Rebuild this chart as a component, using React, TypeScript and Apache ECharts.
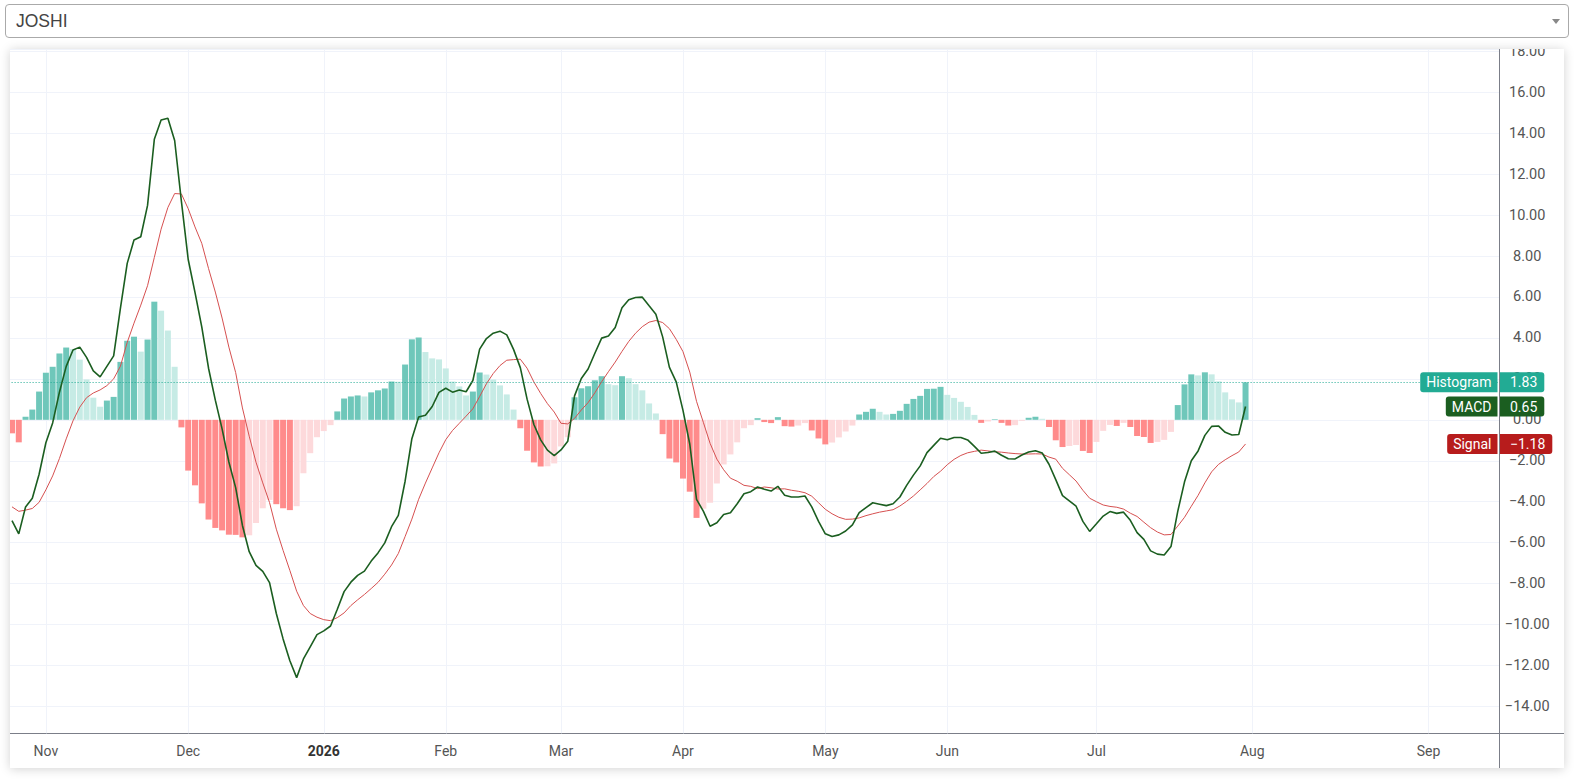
import React, { useEffect, useRef } from "react";
import * as echarts from "echarts";

// ---- time axis (bar slots) ----
const monthLabels = ["Nov", "Dec", "2026", "Feb", "Mar", "Apr", "May", "Jun", "Jul", "Aug", "Sep"];
const monthBarIndex = [5, 26, 46, 64, 81, 99, 120, 138, 160, 183, 209];
const slotCount = 220;

// ---- y axis ----
const yMin = -15.31;
const yMax = 18.11;
const yStep = 2;

// ---- series values (one per bar) ----
const histogram = [
  -0.66, -1.1, 0.15, 0.5, 1.38, 2.3, 2.59, 3.24, 3.53, 3.46, 2.94, 1.97, 1.08, 0.64, 0.94, 1.12, 2.83, 3.86, 4.06, 3.33,
  3.92, 5.77, 5.33, 4.36, 2.59, -0.37, -2.48, -3.2, -4.08, -4.87, -5.28, -5.4, -5.61, -5.62, -5.74, -5.64, -5.04,
  -4.32, -3.91, -4.12, -4.32, -4.41, -4.22, -2.61, -1.63, -0.85, -0.55, -0.26, 0.41, 1.04, 1.14, 1.19, 1.14, 1.34, 1.44,
  1.53, 1.87, 1.86, 2.7, 3.93, 4.02, 3.31, 3.0, 2.95, 2.51, 1.87, 1.63, 1.19, 1.38, 2.31, 2.21, 1.97, 1.68, 1.24, 0.5, -0.41,
  -1.51, -2.08, -2.28, -2.27, -2.13, -1.3, -0.85, 1.1, 1.54, 1.64, 1.93, 2.13, 1.74, 1.69, 2.13, 2.03, 1.74, 1.44, 0.8,
  0.31, -0.7, -1.89, -2.08, -2.87, -3.51, -4.79, -4.34, -4.05, -3.11, -2.18, -1.69, -1.1, -0.41, -0.26, 0.08, -0.11, -0.16,
  0.13, -0.31,
  -0.33, -0.28, -0.16, -0.52, -0.91, -1.2, -1.11, -0.86, -0.57, -0.28, 0.26, 0.39, 0.54, 0.39, 0.26, 0.29, 0.44, 0.78,
  1.02, 1.17, 1.51, 1.52, 1.61, 1.22, 1.07, 0.88, 0.63, 0.24, -0.15, -0.08, 0.03, -0.15, -0.28, -0.26, -0.05, 0.1, 0.15, 0.05,
  -0.35, -1.0, -1.33, -1.28, -1.23, -1.52, -1.62, -1.08, -0.54, -0.25, -0.3, -0.15, -0.35, -0.79, -0.84, -1.13, -1.08,
  -0.98, -0.59, 0.72, 1.73, 2.22, 2.17, 2.32, 2.22, 1.88, 1.34, 1.0, 0.85, 1.83,
];

const macd = [
  -4.92, -5.57, -4.26, -3.83, -2.66, -1.12, -0.15, 1.35, 2.61, 3.41, 3.55, 3.05, 2.39, 2.1, 2.61, 3.12, 5.45, 7.64, 8.78,
  8.94, 10.47, 13.7, 14.64, 14.73, 13.64, 10.66, 7.83, 6.22, 4.54, 2.52, 0.96, -0.44, -2.06, -3.31, -5.16, -6.44, -7.11,
  -7.4, -7.95, -9.46, -10.7, -11.77, -12.59, -11.68, -11.09, -10.49, -10.31, -10.07, -9.25, -8.39, -7.93, -7.6, -7.39,
  -6.9, -6.5, -6.01, -5.22, -4.67, -3.0, -0.92, 0.14, 0.22, 0.65, 1.34, 1.54, 1.35, 1.46, 1.37, 1.92, 3.45, 3.97, 4.23,
  4.33, 4.15, 3.44, 2.55,
  1.01, -0.23, -0.98, -1.48, -1.75, -1.47, -1.05, 1.17, 2.02, 2.48, 3.25, 3.99, 4.09, 4.51, 5.47, 5.86, 5.97, 5.99, 5.57,
  5.16, 4.05, 2.56, 1.85, 0.46, -1.18, -3.89, -4.46, -5.2, -5.03, -4.62, -4.54, -4.1, -3.61, -3.51, -3.28, -3.39, -3.48,
  -3.25, -3.68,
  -3.77, -3.77, -3.72, -4.25, -4.96, -5.57, -5.7, -5.62, -5.43, -5.13, -4.53, -4.29, -4.05, -4.12, -4.19, -4.1, -3.77,
  -3.2, -2.7, -2.25, -1.6, -1.25, -0.9, -0.97, -0.86, -0.86, -0.98, -1.3, -1.63, -1.6, -1.53, -1.73, -1.9, -1.91, -1.72,
  -1.57, -1.51, -1.62,
  -2.17, -2.92, -3.7, -3.96, -4.22, -4.96, -5.45, -5.08, -4.7, -4.48, -4.57, -4.51, -4.91, -5.51, -5.84, -6.4, -6.56,
  -6.6, -6.19, -4.47, -3.03, -2.0, -1.52, -0.76, -0.32, -0.3, -0.61, -0.74, -0.72, 0.65,
];

const signal = [
  -4.25, -4.47, -4.41, -4.33, -4.03, -3.42, -2.74, -1.89, -0.93, -0.05, 0.62, 1.08, 1.31, 1.46, 1.67, 2.0, 2.62, 3.78,
  4.72, 5.6, 6.55, 7.93, 9.31, 10.37, 11.05, 11.03, 10.31, 9.42, 8.62, 7.39, 6.24, 4.97, 3.55, 2.31, 0.58, -0.8, -2.07,
  -3.08, -4.04, -5.34, -6.38, -7.36, -8.37, -9.07, -9.46, -9.64, -9.76, -9.81, -9.66, -9.43, -9.07, -8.79, -8.53, -8.24,
  -7.94, -7.54, -7.09, -6.53, -5.7, -4.85, -3.88, -3.09, -2.35, -1.61, -0.97, -0.52, -0.17, 0.18, 0.54, 1.14, 1.76, 2.26,
  2.65, 2.91, 2.94, 2.96,
  2.52, 1.85, 1.29, 0.79, 0.38, -0.17, -0.2, 0.07, 0.48, 0.84, 1.32, 1.86, 2.35, 2.82, 3.34, 3.83, 4.23, 4.55, 4.77, 4.85,
  4.75, 4.45, 3.93, 3.33, 2.33, 0.9, -0.12, -1.15, -1.92, -2.44, -2.85, -3.0, -3.2, -3.25, -3.36, -3.28, -3.32, -3.38,
  -3.37,
  -3.44, -3.49, -3.56, -3.73, -4.05, -4.37, -4.59, -4.76, -4.86, -4.85, -4.79, -4.68, -4.59, -4.51, -4.45, -4.39, -4.21,
  -3.98, -3.72, -3.42, -3.11, -2.77, -2.51, -2.19, -1.93, -1.74, -1.61, -1.54, -1.48, -1.52, -1.56, -1.58, -1.62, -1.65,
  -1.67, -1.67, -1.66, -1.67,
  -1.82, -1.92, -2.37, -2.68, -2.99, -3.44, -3.83, -4.0, -4.16, -4.23, -4.27, -4.36, -4.56, -4.72, -5.0, -5.27, -5.48,
  -5.62, -5.6, -5.19, -4.76, -4.22, -3.69, -3.08, -2.54, -2.18, -1.95, -1.75, -1.57, -1.18,
];

// ---- styles ----
const FONT = "Roboto, 'Noto Sans', sans-serif";
const TEAL_UP = "#6fc7ba";
const TEAL_DOWN = "#c6ebe5";
const RED_DOWN = "#ff8b8b";
const RED_UP = "#fdd9db";
const GRID_COLOR = "#f0f3fa";
const AXIS_COLOR = "#7b7e88";
const TEXT_COLOR = "#555";
const HIST_COLOR = "#22ab94";
const MACD_COLOR = "#1b5e20";
const SIGNAL_COLOR = "#b71c1c";
const SIGNAL_LINE_COLOR = "#d65050";

const DIV_W = 1556;
const DIV_H = 719;
const GRID_LEFT = 0.6;
const GRID_RIGHT = 64.3;
const GRID_TOP = 0;
const GRID_BOTTOM = 34.7;

function fmtPrice(v: number): string {
  const s = Math.abs(v).toFixed(2);
  return v < 0 ? "\u2212" + s : s;
}

function histColor(i: number): string {
  const v = histogram[i];
  const p = i > 0 ? histogram[i - 1] : v;
  if (v >= 0) return v > p ? TEAL_UP : TEAL_DOWN;
  return v > p ? RED_UP : RED_DOWN;
}

function ChartPanel() {
  const ref = useRef<HTMLDivElement>(null);
  useEffect(() => {
    const el = ref.current;
    if (!el) return;
    const chart = echarts.init(el, null, { renderer: "svg" });
    const categories = Array.from({ length: slotCount }, (_, i) => String(i));
    const labelAt = new Map<number, string>(monthBarIndex.map((idx, k) => [idx, monthLabels[k]]));
    const last = histogram.length - 1;

    const option: any = {
      animation: false,
      grid: {
        left: GRID_LEFT,
        right: GRID_RIGHT,
        top: GRID_TOP,
        bottom: GRID_BOTTOM,
        containLabel: false,
        outerBoundsMode: "none",
      },
      xAxis: {
        type: "category",
        data: categories,
        boundaryGap: true,
        axisLine: { show: true, onZero: false, lineStyle: { color: AXIS_COLOR, width: 1 } },
        axisTick: { show: false },
        splitLine: { show: false },
        axisLabel: {
          interval: (index: number) => labelAt.has(index),
          margin: 11,
          fontSize: 14,
          fontFamily: FONT,
          color: TEXT_COLOR,
          formatter: (value: string) => {
            const l = labelAt.get(Number(value)) || "";
            return /^\d{4}$/.test(l) ? "{y|" + l + "}" : l;
          },
          rich: {
            y: { fontWeight: "bold", fontSize: 14, fontFamily: FONT, color: "#333" },
          },
        },
      },
      yAxis: {
        type: "value",
        position: "right",
        min: yMin,
        max: yMax,
        minInterval: yStep,
        maxInterval: yStep,
        axisLine: { show: true, onZero: false, lineStyle: { color: AXIS_COLOR, width: 1 } },
        axisTick: { show: false },
        splitLine: { show: true, lineStyle: { color: GRID_COLOR, width: 1 } },
        axisLabel: {
          align: "center",
          margin: 27.5,
          fontSize: 14.5,
          fontFamily: FONT,
          color: TEXT_COLOR,
          formatter: (v: number) => {
            const r = Math.round(v);
            if (Math.abs(v - r) > 1e-6 || r % yStep !== 0) return "";
            return fmtPrice(r);
          },
        },
      },
      series: [
        {
          name: "Histogram",
          type: "bar",
          barWidth: 6,
          data: histogram.map((v, i) => ({ value: v, itemStyle: { color: histColor(i) } })),
          silent: true,
          z: 2,
          markLine: {
            silent: true,
            z: 1,
            symbol: ["none", "none"],
            label: { show: false },
            lineStyle: { color: GRID_COLOR, type: "solid", width: 1 },
            emphasis: { disabled: true },
            data: monthBarIndex.map((i) => ({ xAxis: i })),
          },
        },
        {
          name: "Signal",
          type: "line",
          data: signal,
          showSymbol: false,
          symbol: "none",
          silent: true,
          z: 3,
          lineStyle: { color: SIGNAL_LINE_COLOR, width: 1 },
        },
        {
          name: "MACD",
          type: "line",
          data: macd,
          showSymbol: false,
          symbol: "none",
          silent: true,
          z: 4,
          lineStyle: { color: MACD_COLOR, width: 1.6 },
          markLine: {
            silent: true,
            symbol: ["none", "none"],
            label: { show: false },
            emphasis: { disabled: true },
            lineStyle: { color: HIST_COLOR, type: [1, 2], width: 1 },
            data: [{ yAxis: histogram[last] }],
          },
        },
      ],
    };
    chart.setOption(option);

    const axisX = 1491.5;
    const axisY = 684.5;
    const tags = [
      { title: "Histogram", value: histogram[last], color: HIST_COLOR },
      { title: "MACD", value: macd[last], color: MACD_COLOR },
      { title: "Signal", value: signal[last], color: SIGNAL_COLOR },
    ];
    const graphic: any[] = [
      {
        type: "line",
        silent: true,
        z: 10,
        shape: { x1: axisX, y1: axisY, x2: DIV_W, y2: axisY },
        style: { stroke: AXIS_COLOR, lineWidth: 1 },
      },
      {
        type: "line",
        silent: true,
        z: 10,
        shape: { x1: axisX, y1: axisY, x2: axisX, y2: DIV_H },
        style: { stroke: AXIS_COLOR, lineWidth: 1 },
      },
    ];
    tags.forEach((t) => {
      const y = chart.convertToPixel({ yAxisIndex: 0 }, t.value) as number;
      graphic.push({
        type: "text",
        silent: true,
        z: 20,
        x: axisX - 2,
        y,
        style: {
          text: t.title,
          fill: "#fff",
          fontSize: 14,
          fontFamily: FONT,
          lineHeight: 14,
          align: "right",
          verticalAlign: "middle",
          backgroundColor: t.color,
          padding: [3, 6, 3, 6],
          borderRadius: [3, 0, 0, 3],
        },
      });
      graphic.push({
        type: "text",
        silent: true,
        z: 20,
        x: axisX + 0.5,
        y,
        style: {
          text: fmtPrice(t.value),
          fill: "#fff",
          fontSize: 14,
          fontFamily: FONT,
          lineHeight: 14,
          align: "left",
          verticalAlign: "middle",
          backgroundColor: t.color,
          padding: [3, 7, 3, 10],
          borderRadius: [0, 3, 3, 0],
        },
      });
    });
    chart.setOption({ graphic });

    return () => {
      chart.dispose();
    };
  }, []);

  return (
    <div
      style={{
        position: "absolute",
        left: 10,
        top: 49,
        width: 1554,
        height: 719,
        overflow: "hidden",
        background: "#fff",
        boxShadow: "0 1px 10px rgba(0,0,0,0.18)",
      }}
    >
      <div ref={ref} style={{ position: "absolute", left: -2, top: 0, width: DIV_W, height: DIV_H }} />
    </div>
  );
}

export default function App() {
  return (
    <div style={{ position: "absolute", left: 0, top: 0, width: 1574, height: 779, background: "#fff", overflow: "hidden" }}>
      <div
        style={{
          position: "absolute",
          left: 5,
          top: 4,
          width: 1564,
          height: 34,
          boxSizing: "border-box",
          border: "1px solid #aaa",
          borderRadius: 4,
          background: "#fff",
          fontFamily: "'Liberation Sans', Arial, sans-serif",
          fontSize: 17.5,
          color: "#444",
          lineHeight: "32px",
          paddingLeft: 10,
        }}
      >
        JOSHI
        <div
          style={{
            position: "absolute",
            right: 8,
            top: 14,
            width: 0,
            height: 0,
            borderStyle: "solid",
            borderWidth: "5px 4px 0 4px",
            borderColor: "#888 transparent transparent transparent",
          }}
        />
      </div>
      <ChartPanel />
    </div>
  );
}
